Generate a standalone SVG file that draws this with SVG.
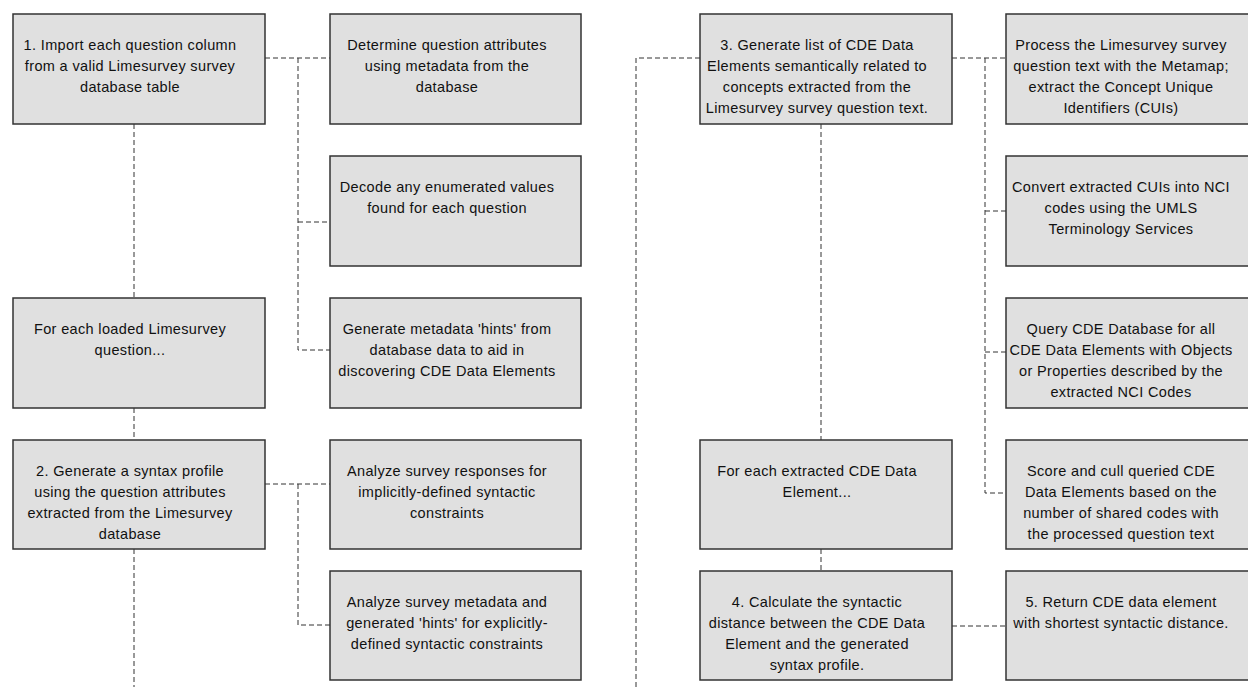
<svg xmlns="http://www.w3.org/2000/svg" width="1248" height="687" viewBox="0 0 1248 687">
<style>
.box{fill:#e0e0e0;stroke:#333;stroke-width:1.5}
.t{font-family:"Liberation Sans",Arial,sans-serif;font-size:14.5px;letter-spacing:0.35px;fill:#111;text-anchor:middle}
.c{fill:none;stroke:#333;stroke-width:1;stroke-dasharray:5 3}
</style>
<rect width="1248" height="687" fill="#fff"/>
<g id="connectors">
<path class="c" d="M134 124V298M134 408V440M134 549V687"/>
<path class="c" d="M265 58H330M298 58V350H330M298 222H330"/>
<path class="c" d="M265 484H330M298 484V625H330"/>
<path class="c" d="M700 58H636V687"/>
<path class="c" d="M952 58H1006M985 58V493H1006M985 211H1006M985 352H1006"/>
<path class="c" d="M821 124V440M821 549V571"/>
<path class="c" d="M952 626H1006"/>
</g>
<g id="n1"><rect class="box" x="13" y="14" width="252" height="110"/><text class="t" x="130" y="50"><tspan x="130">1. Import each question column</tspan><tspan x="130" dy="21">from a valid Limesurvey survey</tspan><tspan x="130" dy="21">database table</tspan></text></g>
<g id="n1a"><rect class="box" x="330" y="14" width="251" height="110"/><text class="t" x="447" y="50"><tspan x="447">Determine question attributes</tspan><tspan x="447" dy="21">using metadata from the</tspan><tspan x="447" dy="21">database</tspan></text></g>
<g id="n1b"><rect class="box" x="330" y="156" width="251" height="110"/><text class="t" x="447" y="192"><tspan x="447">Decode any enumerated values</tspan><tspan x="447" dy="21">found for each question</tspan></text></g>
<g id="nloop1"><rect class="box" x="13" y="298" width="252" height="110"/><text class="t" x="130" y="334"><tspan x="130">For each loaded Limesurvey</tspan><tspan x="130" dy="21">question...</tspan></text></g>
<g id="n1c"><rect class="box" x="330" y="298" width="251" height="110"/><text class="t" x="447" y="334"><tspan x="447">Generate metadata 'hints' from</tspan><tspan x="447" dy="21">database data to aid in</tspan><tspan x="447" dy="21">discovering CDE Data Elements</tspan></text></g>
<g id="n2"><rect class="box" x="13" y="440" width="252" height="109"/><text class="t" x="130" y="476"><tspan x="130">2. Generate a syntax profile</tspan><tspan x="130" dy="21">using the question attributes</tspan><tspan x="130" dy="21">extracted from the Limesurvey</tspan><tspan x="130" dy="21">database</tspan></text></g>
<g id="n2a"><rect class="box" x="330" y="440" width="251" height="109"/><text class="t" x="447" y="476"><tspan x="447">Analyze survey responses for</tspan><tspan x="447" dy="21">implicitly-defined syntactic</tspan><tspan x="447" dy="21">constraints</tspan></text></g>
<g id="n2b"><rect class="box" x="330" y="571" width="251" height="109"/><text class="t" x="447" y="607"><tspan x="447">Analyze survey metadata and</tspan><tspan x="447" dy="21">generated 'hints' for explicitly-</tspan><tspan x="447" dy="21">defined syntactic constraints</tspan></text></g>
<g id="n3"><rect class="box" x="700" y="14" width="252" height="110"/><text class="t" x="817" y="50"><tspan x="817">3. Generate list of CDE Data</tspan><tspan x="817" dy="21">Elements semantically related to</tspan><tspan x="817" dy="21">concepts extracted from the</tspan><tspan x="817" dy="21">Limesurvey survey question text.</tspan></text></g>
<g id="n3a"><rect class="box" x="1006" y="14" width="252" height="110"/><text class="t" x="1121" y="50"><tspan x="1121">Process the Limesurvey survey</tspan><tspan x="1121" dy="21">question text with the Metamap;</tspan><tspan x="1121" dy="21">extract the Concept Unique</tspan><tspan x="1121" dy="21">Identifiers (CUIs)</tspan></text></g>
<g id="n3b"><rect class="box" x="1006" y="156" width="252" height="110"/><text class="t" x="1121" y="192"><tspan x="1121">Convert extracted CUIs into NCI</tspan><tspan x="1121" dy="21">codes using the UMLS</tspan><tspan x="1121" dy="21">Terminology Services</tspan></text></g>
<g id="n3c"><rect class="box" x="1006" y="298" width="252" height="110"/><text class="t" x="1121" y="334"><tspan x="1121">Query CDE Database for all</tspan><tspan x="1121" dy="21">CDE Data Elements with Objects</tspan><tspan x="1121" dy="21">or Properties described by the</tspan><tspan x="1121" dy="21">extracted NCI Codes</tspan></text></g>
<g id="nloop2"><rect class="box" x="700" y="440" width="252" height="109"/><text class="t" x="817" y="476"><tspan x="817">For each extracted CDE Data</tspan><tspan x="817" dy="21">Element...</tspan></text></g>
<g id="n3d"><rect class="box" x="1006" y="440" width="252" height="109"/><text class="t" x="1121" y="476"><tspan x="1121">Score and cull queried CDE</tspan><tspan x="1121" dy="21">Data Elements based on the</tspan><tspan x="1121" dy="21">number of shared codes with</tspan><tspan x="1121" dy="21">the processed question text</tspan></text></g>
<g id="n4"><rect class="box" x="700" y="571" width="252" height="109"/><text class="t" x="817" y="607"><tspan x="817">4. Calculate the syntactic</tspan><tspan x="817" dy="21">distance between the CDE Data</tspan><tspan x="817" dy="21">Element and the generated</tspan><tspan x="817" dy="21">syntax profile.</tspan></text></g>
<g id="n5"><rect class="box" x="1006" y="571" width="252" height="109"/><text class="t" x="1121" y="607"><tspan x="1121">5. Return CDE data element</tspan><tspan x="1121" dy="21">with shortest syntactic distance.</tspan></text></g>
</svg>
